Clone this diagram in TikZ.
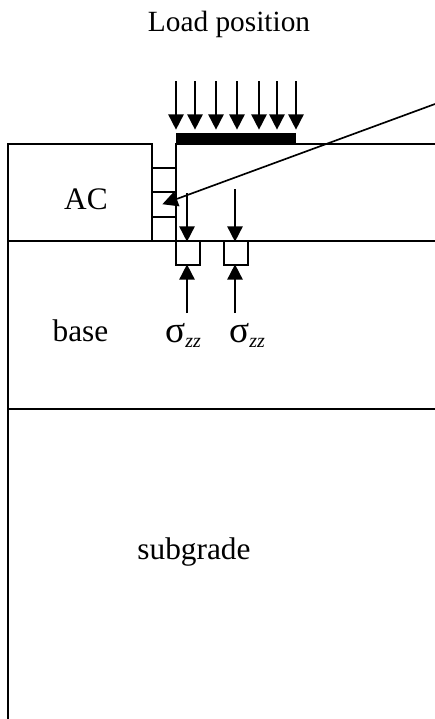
\documentclass[tikz,border=0pt]{standalone}
\usepackage{fontspec}
\setmainfont{Liberation Serif}
\usetikzlibrary{arrows.meta}
\tikzset{
  x=0.75pt,y=-0.75pt,
  wall/.style={line width=1.25pt,line cap=butt},
  force/.style={line width=1.25pt,-{Triangle[length=11.5pt,width=11.5pt]},shorten >=-0.5pt},
  lbl/.style={inner sep=0pt,anchor=base},
}
\newcommand{\lblfont}{\fontsize{23.5}{26}\selectfont}
\newcommand{\szz}{\fontsize{28}{30}\selectfont σ\raisebox{-4pt}{\fontsize{15}{16}\selectfont\itshape zz}}
\begin{document}
\begin{tikzpicture}
\useasboundingbox (0,0) rectangle (435,719);
\fill[white] (0,0) rectangle (435,719);
% layers
\draw[wall] (8,719) -- (8,144) -- (152,144) -- (152,241);
\draw[wall] (176,241) -- (176,144) -- (435,144);
\draw[wall] (8,241) -- (435,241);
\draw[wall] (8,409) -- (435,409);
% interface cells
\draw[wall] (152,168) -- (176,168);
\draw[wall] (152,192) -- (176,192);
\draw[wall] (152,217) -- (176,217);
% load bar
\fill[black] (176,133) rectangle (296,145);
% load arrows
\foreach \x in {176,195,216,237,259,277,296}
  \draw[force] (\x,81) -- (\x,129);
% stress elements
\draw[wall] (176,241) rectangle (200,265);
\draw[wall] (224,241) rectangle (248,265);
\coordinate (d1s) at (187,193); \coordinate (d1e) at (187,241);
\coordinate (d2s) at (235,189); \coordinate (d2e) at (235,241);
\coordinate (u1s) at (187,313); \coordinate (u1e) at (187,265);
\coordinate (u2s) at (235,313); \coordinate (u2e) at (235,265);
\draw[force] (d1s) -- (d1e);
\draw[force] (d2s) -- (d2e);
\draw[force] (u1s) -- (u1e);
\draw[force] (u2s) -- (u2e);
% pointer
\coordinate (ps) at (435,104); \coordinate (pe) at (163,204);
\draw[force] (ps) -- (pe);
% labels
\node[lbl] (load) at (229,31) {\fontsize{22}{26}\selectfont Load position};
\node[lbl] (ac) at (86,209) {\lblfont AC};
\node[lbl] (base) at (80.5,341) {\lblfont base};
\node[lbl] (sub) at (194,559) {\lblfont subgrade};
\node[lbl] (s1) at (183,342) {\szz};
\node[lbl] (s2) at (247,342) {\szz};
\end{tikzpicture}
\end{document}
